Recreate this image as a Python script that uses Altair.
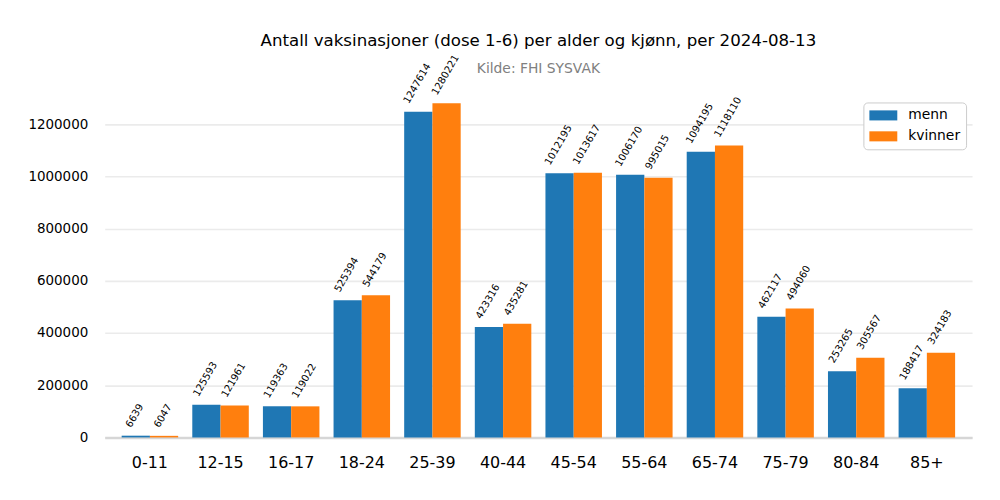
import altair as alt
import pandas as pd

ages = ["0-11", "12-15", "16-17", "18-24", "25-39", "40-44", "45-54",
        "55-64", "65-74", "75-79", "80-84", "85+"]
menn = [6639, 125593, 119363, 525394, 1247614, 423316, 1012195,
        1006170, 1094195, 462117, 253265, 188417]
kvinner = [6047, 121961, 119022, 544179, 1280221, 435281, 1013617,
           995015, 1118110, 494060, 305567, 324183]
series = ["menn", "kvinner"]
colors = ["#1f77b4", "#ff7f0e"]
y_ticks = [0, 200000, 400000, 600000, 800000, 1000000, 1200000]

rows = []
for a, m, k in zip(ages, menn, kvinner):
    rows.append({"alder": a, "kjønn": "menn", "antall": m})
    rows.append({"alder": a, "kjønn": "kvinner", "antall": k})
df = pd.DataFrame(rows)
df["label"] = df["antall"].astype(str)

FONT = "DejaVu Sans"

x_enc = alt.X("alder:N", sort=ages,
              scale=alt.Scale(paddingInner=0.2, paddingOuter=0.24),
              axis=alt.Axis(title=None, labelAngle=0, labelFontSize=16,
                            labelColor="#000000", labelFont=FONT,
                            labelPadding=17, ticks=False,
                            domainColor="#d6d6d6", domainWidth=2.5,
                            grid=False))
xoff = alt.XOffset("kjønn:N", sort=series,
                   scale=alt.Scale(paddingInner=0, paddingOuter=0))
y_enc = alt.Y("antall:Q",
              scale=alt.Scale(domain=[0, 1344232], nice=False, zero=True),
              axis=alt.Axis(title=None, values=y_ticks, format="d",
                            labelFontSize=13.5, labelColor="#000000",
                            labelFont=FONT, labelPadding=17, ticks=False,
                            domain=False, grid=True, gridColor="#ebebeb",
                            gridWidth=1.6))

bars = alt.Chart(df).mark_bar().encode(
    x=x_enc,
    xOffset=xoff,
    y=y_enc,
    color=alt.Color("kjønn:N", sort=series,
                    scale=alt.Scale(domain=series, range=colors),
                    legend=alt.Legend(
                        title=None, orient="none", legendX=761, legendY=16,
                        direction="vertical", fillColor="#ffffff",
                        strokeColor="#cccccc", cornerRadius=4, padding=6,
                        symbolType="M-1,-0.72H3V0.72H-1Z", symbolSize=196,
                        symbolStrokeWidth=0, symbolOpacity=1,
                        labelFontSize=13.9, labelFont=FONT,
                        labelColor="#000000", labelOffset=25, rowPadding=7)),
)

# rotated value labels, centred over each bar (offset depends on label length)
label_layers = []
for n, dx, dy in [(4, 4.1, -10.9), (6, 2.5, -13.7), (7, 1.7, -15.1)]:
    label_layers.append(
        alt.Chart(df).transform_filter(f"length(datum.label) == {n}")
        .mark_text(angle=300, align="left", baseline="middle", dx=dx, dy=dy,
                   fontSize=10, font=FONT, color="#000000")
        .encode(
            x=alt.X("alder:N", sort=ages),
            xOffset=alt.XOffset("kjønn:N", sort=series),
            y="antall:Q",
            text="label:N",
        )
    )

chart = alt.layer(bars, *label_layers).properties(
    width=870, height=352,
    title=alt.TitleParams(
        text="Antall vaksinasjoner (dose 1-6) per alder og kjønn, per 2024-08-13",
        subtitle="Kilde: FHI SYSVAK",
        font=FONT, fontSize=16.7, fontWeight="normal", color="#000000",
        subtitleFont=FONT, subtitleFontSize=13.9, subtitleColor="#808080",
        subtitlePadding=13, anchor="middle", offset=-23),
    autosize=alt.AutoSizeParams(type="none"),
    padding={"left": 97, "top": 78, "right": 20, "bottom": 50},
).configure_view(strokeOpacity=0)

chart.save("out.html", embed_options={"renderer": "svg", "actions": False})
